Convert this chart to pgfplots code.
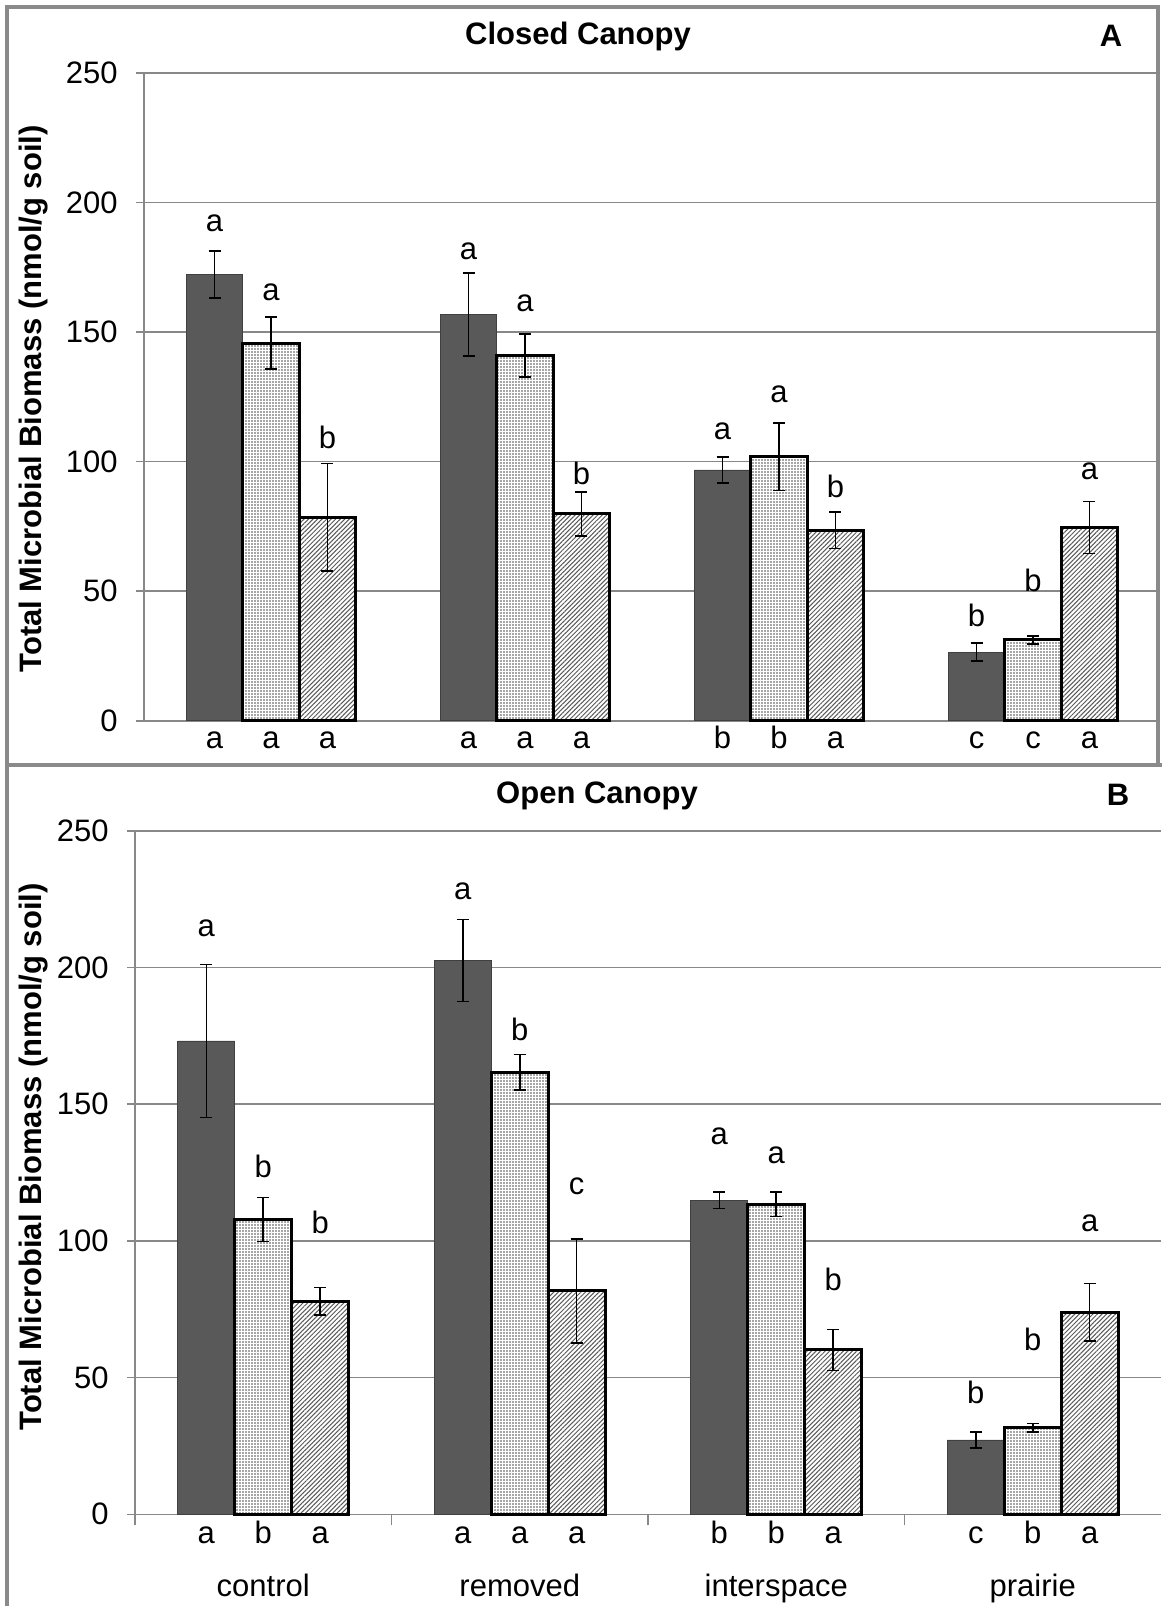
\documentclass[border=0pt]{standalone}
\usepackage{pgfplots}
\pgfplotsset{compat=1.18}
\usepackage{fontspec}
\setmainfont{Liberation Sans}
\usetikzlibrary{patterns.meta}
\definecolor{gridgray}{HTML}{888888}
\definecolor{framegray}{HTML}{8A8A8A}
\definecolor{darkbar}{HTML}{595959}
\newcommand\fs{\fontsize{15.5}{18}\selectfont}
\pgfplotsset{
  panel/.style={
    scale only axis, ymin=0, ymax=250, ytick={0,50,...,250},
    xmin=-0.5, xmax=3.5,
    axis x line*=bottom, axis y line*=left,
    axis line style={draw=gridgray, line width=0.8pt},
    ymajorgrids, grid style={draw=gridgray, line width=0.8pt},
    tick align=outside, major tick length=4pt,
    tick style={draw=gridgray, line width=0.8pt},
    ticklabel style={font=\fs},
    /pgf/number format/assume math mode=true,
    yticklabel style={anchor=east, inner sep=0pt, xshift=-9pt},
    xtick=\empty, clip=false,
  },
  errs/.style={error bars/.cd, y dir=both, y explicit,
    error bar style={black, line width=0.8pt},
    error mark options={black, line width=0.8pt, mark size=3pt, rotate=90}},
  darkb/.style={ybar, bar width=0.222, bar shift=0pt, fill=darkbar, draw=black!75, line width=0.4pt, errs},
  dotb/.style={ybar, bar width=0.222, bar shift=0pt, fill=white, draw=black, line width=1.5pt,
    postaction={pattern={Dots[distance=1.5pt,radius=0.4pt]}, pattern color=black!70}, errs},
  hatb/.style={ybar, bar width=0.222, bar shift=0pt, fill=white, draw=black, line width=1.5pt,
    postaction={pattern={Lines[angle=45,distance=1.6pt,line width=0.5pt]}, pattern color=black!65}, errs},
}
\tikzset{
  lab/.style={font=\fs},
  labA/.style={font=\fs, anchor=base, yshift=-13.8pt},
  labB/.style={font=\fs, anchor=base, yshift=-14.5pt},
  catB/.style={font=\fs, anchor=base, yshift=-41pt},
}
\begin{document}
\begin{tikzpicture}
\path[use as bounding box] (0,0) rectangle (581pt,-803pt);
% frames
\draw[framegray, line width=2pt] (3.5pt,-382.5pt) -- (3.5pt,-3.5pt) -- (579pt,-3.5pt) -- (579pt,-382.5pt);
\draw[framegray, line width=2pt] (2.5pt,-382.5pt) -- (581pt,-382.5pt);
\draw[framegray, line width=2pt] (3.5pt,-382.5pt) -- (3.5pt,-803pt);
% titles
\node[font=\fs\bfseries] at (289pt,-18pt) {Closed Canopy};
\node[font=\fs\bfseries] at (555.5pt,-18pt) {A};
\node[font=\fs\bfseries] at (298.5pt,-398pt) {Open Canopy};
\node[font=\fs\bfseries] at (559pt,-397.5pt) {B};
\node[font=\fs\bfseries, rotate=90] at (17pt,-199.5pt) {Total Microbial Biomass (nmol/g soil)};
\node[font=\fs\bfseries, rotate=90] at (17pt,-578.5pt) {Total Microbial Biomass (nmol/g soil)};

% Panel A
\begin{axis}[panel, at={(72pt,-360.4pt)}, anchor=south west, width=508pt, height=324pt]
\addplot[darkb] coordinates {(-0.222,172.2) +- (0,9) (0.778,156.8) +- (0,16) (1.778,96.8) +- (0,5) (2.778,26.5) +- (0,3.5)};
\addplot[dotb] coordinates {(0,145.7) +- (0,10) (1,141) +- (0,8.3) (2,101.9) +- (0,13) (3,31.2) +- (0,1.5)};
\addplot[hatb] coordinates {(0.222,78.6) +- (0,20.7) (1.222,79.8) +- (0,8.5) (2.222,73.5) +- (0,7) (3.222,74.6) +- (0,10)};
% letters above bars
\node[lab] at (axis cs:-0.222,192) {a};
\node[lab] at (axis cs:0,165.5) {a};
\node[lab] at (axis cs:0.222,109.4) {b};
\node[lab] at (axis cs:0.778,181.3) {a};
\node[lab] at (axis cs:1,161.1) {a};
\node[lab] at (axis cs:1.222,95.6) {b};
\node[lab] at (axis cs:1.778,111.8) {a};
\node[lab] at (axis cs:2,126) {a};
\node[lab] at (axis cs:2.222,90.4) {b};
\node[lab] at (axis cs:2.778,40.7) {b};
\node[lab] at (axis cs:3,54.1) {b};
\node[lab] at (axis cs:3.222,96.4) {a};
% letters below
\node[labA] at (axis cs:-0.222,0) {a};
\node[labA] at (axis cs:0,0) {a};
\node[labA] at (axis cs:0.222,0) {a};
\node[labA] at (axis cs:0.778,0) {a};
\node[labA] at (axis cs:1,0) {a};
\node[labA] at (axis cs:1.222,0) {a};
\node[labA] at (axis cs:1.778,0) {b};
\node[labA] at (axis cs:2,0) {b};
\node[labA] at (axis cs:2.222,0) {a};
\node[labA] at (axis cs:2.778,0) {c};
\node[labA] at (axis cs:3,0) {c};
\node[labA] at (axis cs:3.222,0) {a};
\end{axis}

% Panel B
\begin{axis}[panel, at={(67.5pt,-757.15pt)}, anchor=south west, width=513pt, height=341.8pt,
  extra x ticks={-0.5,0.5,1.5,2.5}, extra x tick labels={},
  extra x tick style={major tick length=5.5pt, grid=none}]
\addplot[darkb] coordinates {(-0.222,173.1) +- (0,28) (0.778,202.5) +- (0,15) (1.778,114.9) +- (0,3) (2.778,27.2) +- (0,3)};
\addplot[dotb] coordinates {(0,107.8) +- (0,8) (1,161.6) +- (0,6.5) (2,113.4) +- (0,4.5) (3,31.7) +- (0,1.5)};
\addplot[hatb] coordinates {(0.222,78) +- (0,5) (1.222,81.7) +- (0,19) (2.222,60.1) +- (0,7.5) (3.222,73.9) +- (0,10.5)};
\node[lab] at (axis cs:-0.222,214.2) {a};
\node[lab] at (axis cs:0,127.2) {b};
\node[lab] at (axis cs:0.222,106.7) {b};
\node[lab] at (axis cs:0.778,227.7) {a};
\node[lab] at (axis cs:1,177.2) {b};
\node[lab] at (axis cs:1.222,119.8) {c};
\node[lab] at (axis cs:1.778,138.4) {a};
\node[lab] at (axis cs:2,131.3) {a};
\node[lab] at (axis cs:2.222,85.8) {b};
\node[lab] at (axis cs:2.778,44.4) {b};
\node[lab] at (axis cs:3,63.8) {b};
\node[lab] at (axis cs:3.222,106.3) {a};
\node[labB] at (axis cs:-0.222,0) {a};
\node[labB] at (axis cs:0,0) {b};
\node[labB] at (axis cs:0.222,0) {a};
\node[labB] at (axis cs:0.778,0) {a};
\node[labB] at (axis cs:1,0) {a};
\node[labB] at (axis cs:1.222,0) {a};
\node[labB] at (axis cs:1.778,0) {b};
\node[labB] at (axis cs:2,0) {b};
\node[labB] at (axis cs:2.222,0) {a};
\node[labB] at (axis cs:2.778,0) {c};
\node[labB] at (axis cs:3,0) {b};
\node[labB] at (axis cs:3.222,0) {a};
\node[catB] at (axis cs:0,0) {control};
\node[catB] at (axis cs:1,0) {removed};
\node[catB] at (axis cs:2,0) {interspace};
\node[catB] at (axis cs:3,0) {prairie};
\end{axis}
\end{tikzpicture}
\end{document}
